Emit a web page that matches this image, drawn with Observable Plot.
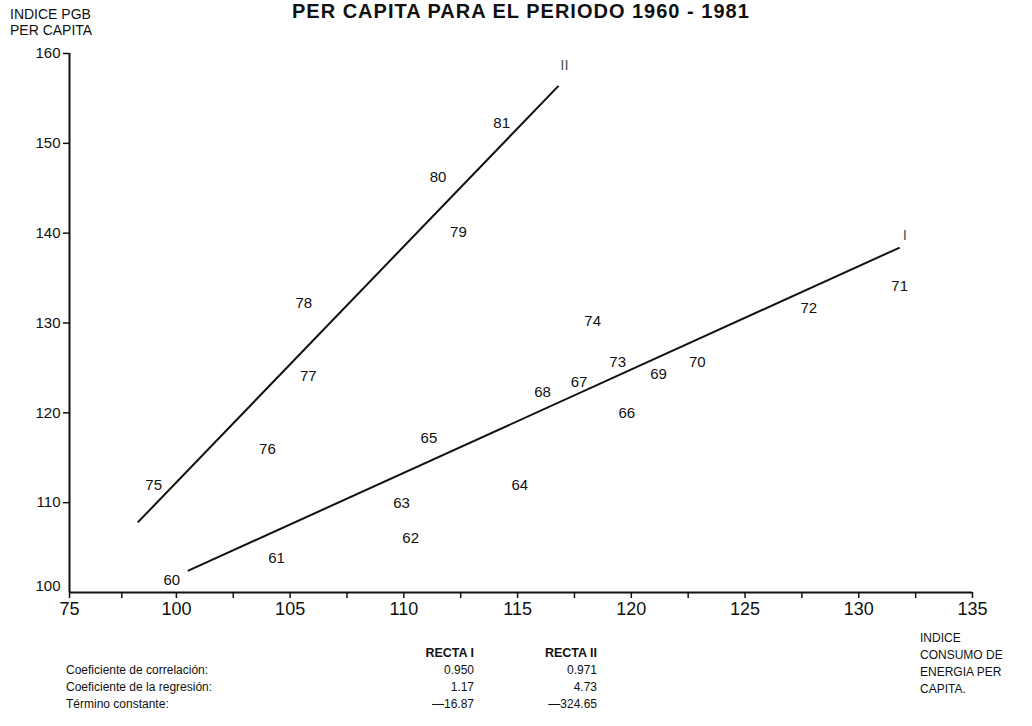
<!DOCTYPE html>
<html>
<head>
<meta charset="utf-8">
<script src="https://cdn.jsdelivr.net/npm/d3@7"></script>
<script src="https://cdn.jsdelivr.net/npm/@observablehq/plot@0.6"></script>
<style>
  html, body { margin: 0; padding: 0; background: #fff; }
  #wrap { position: relative; width: 1032px; height: 726px; overflow: hidden; font-family: "Liberation Sans", Arial, sans-serif; color: #111; }
  #chart { position: absolute; left: 0; top: 0; }
  .abs { position: absolute; white-space: nowrap; }
  #title { left: 292px; top: 0px; font-size: 20px; line-height: 22px; font-weight: bold; letter-spacing: 1px; }
  #ytitle { left: 10px; top: 6px; font-size: 14px; line-height: 16px; }
  #xtitle { left: 920px; top: 630px; font-size: 12px; line-height: 17px; }
  table#stats { position: absolute; left: 66px; top: 644px; border-collapse: collapse; font-size: 12px; }
  #stats td, #stats th { padding: 0; height: 17px; }
  #stats th { font-weight: bold; text-align: right; font-size: 12.5px; }
  #stats td.v { text-align: right; }
</style>
</head>
<body>
<div id="wrap">
  <div id="chart"></div>
  <div id="title" class="abs">PER CAPITA PARA EL PERIODO 1960 - 1981</div>
  <div id="ytitle" class="abs">INDICE PGB<br>PER CAPITA</div>
  <div id="xtitle" class="abs">INDICE<br>CONSUMO DE<br>ENERGIA PER<br>CAPITA.</div>
  <table id="stats"></table>
</div>
<script>
// ---- Data ----
const years = ["60","61","62","63","64","65","66","67","68","69","70","71","72","73","74","75","76","77","78","79","80","81"];
const energyIndex = [99.8,104.4,110.3,109.9,115.1,111.1,119.8,117.7,116.1,121.2,122.9,131.8,127.8,119.4,118.3,99.0,104.0,105.8,105.6,112.4,111.5,114.3];
const pgbIndex = [101.4,103.8,106.1,109.9,112.0,117.2,120.0,123.4,122.3,124.3,125.6,134.1,131.6,125.6,130.2,112.0,116.0,124.1,132.2,140.1,146.2,152.2];

// regression lines (end points)
const lineNames = ["I", "II"];
const lineStartX = [100.5, 98.3];
const lineStartY = [102.4, 107.8];
const lineEndX = [131.8, 116.8];
const lineEndY = [138.4, 156.4];

// axes
const xOrigin = 95.3;            // broken axis origin, labelled "75"
const xMax = 135;
const xTickValues = [95.3, 97.6, 100, 102.5, 105, 107.5, 110, 112.5, 115, 117.5, 120, 122.5, 125, 127.5, 130, 132.5, 135];
const xTickLabels = ["75", "", "100", "", "105", "", "110", "", "115", "", "120", "", "125", "", "130", "", "135"];
const yTickValues = [110, 120, 130, 140, 150, 160];
const yMin = 100, yMax = 160;

// statistics table
const statHeaders = ["RECTA I", "RECTA II"];
const statRows = ["Coeficiente de correlación:", "Coeficiente de la regresión:", "Término constante:"];
const rectaI = ["0.950", "1.17", "—16.87"];
const rectaII = ["0.971", "4.73", "—324.65"];

// ---- build ----
const points = years.map((y, i) => ({year: y, x: energyIndex[i], y: pgbIndex[i]}));
const lines = lineNames.map((n, i) => ({name: n, x1: lineStartX[i], y1: lineStartY[i], x2: lineEndX[i], y2: lineEndY[i]}));
const xLabel = new Map(xTickValues.map((v, i) => [v, xTickLabels[i]]));

const font = "Liberation Sans, Arial, sans-serif";
const plot = Plot.plot({
  width: 1032,
  height: 726,
  marginLeft: 69,
  marginRight: 60,
  marginTop: 53,
  marginBottom: 134,
  style: {fontFamily: font, color: "#111", background: "transparent"},
  x: {domain: [xOrigin, xMax]},
  y: {domain: [yMin, yMax]},
  marks: [
    Plot.axisX({ticks: xTickValues, tickFormat: d => xLabel.get(d), tickSize: 6, tickPadding: 4, fontSize: 18, label: null, strokeWidth: 1.5}),
    Plot.axisY({ticks: yTickValues, tickSize: 6, tickPadding: 3, fontSize: 15, label: null, strokeWidth: 1.5}),
    Plot.axisY({ticks: [yMin], tickSize: 6, tickPadding: 3, fontSize: 15, label: null, dy: -6, strokeWidth: 0}),
    Plot.ruleY([yMin], {stroke: "#111", strokeWidth: 2}),
    Plot.ruleX([xOrigin], {stroke: "#111", strokeWidth: 2}),
    Plot.link(lines, {x1: "x1", y1: "y1", x2: "x2", y2: "y2", stroke: "#111", strokeWidth: 2}),
    Plot.text(lines.filter(d => d.name === "I"), {x: "x2", y: "y2", text: "name", dx: 5, dy: -12, fontSize: 15, fill: "#555", textAnchor: "middle"}),
    Plot.text(lines.filter(d => d.name === "II"), {x: "x2", y: "y2", text: "name", dx: 6, dy: -21, fontSize: 15, fill: "#555", textAnchor: "middle"}),
    Plot.text(points, {x: "x", y: "y", text: "year", fontSize: 15, fill: "#111"})
  ]
});
document.getElementById("chart").appendChild(plot);

// table
const tbl = document.getElementById("stats");
let html = "<tr><th style='width:290px'></th><th style='width:118px'>" + statHeaders[0] + "</th><th style='width:123px;padding-right:0'>" + statHeaders[1] + "</th></tr>";
statRows.forEach((r, i) => {
  html += "<tr><td>" + r + "</td><td class='v'>" + rectaI[i] + "</td><td class='v'>" + rectaII[i] + "</td></tr>";
});
tbl.innerHTML = html;
</script>
</body>
</html>
